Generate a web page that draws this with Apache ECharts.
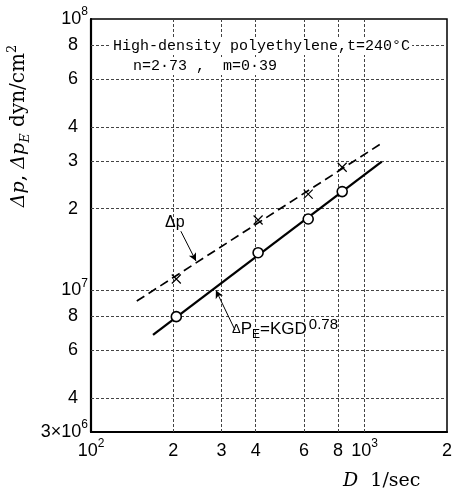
<!DOCTYPE html>
<html>
<head>
<meta charset="utf-8">
<title>Δp, Δp_E vs D</title>
<script src="https://cdn.jsdelivr.net/npm/echarts@6/dist/echarts.min.js"></script>
<style>
  html, body { margin: 0; padding: 0; background: #fff; }
  #chart { width: 452px; height: 493px; }
</style>
</head>
<body>
<div id="chart"></div>
<script>
// shear rate D (1/sec) of the measured points
const shearRate = [205, 408, 622, 828];
// Δp_E (open circles) and Δp (crosses), dyn/cm2
const deltaPE = [7.99e6, 1.375e7, 1.83e7, 2.31e7];
const deltaP = [1.10e7, 1.815e7, 2.26e7, 2.84e7];

// end points of the two drawn lines
const solidD = [168.5, 1155];
const solidPE = [6.84e6, 2.98e7];
const dashD = [147, 1138];
const dashP = [9.12e6, 3.45e7];

// leader arrows of the two notes: [D, p] start -> end
const arrowP = [[213, 1.65e7], [242, 1.28e7]];
const arrowPE = [[336, 7.13e6], [286, 1.0e7]];

const xTicks = [100, 200, 300, 400, 600, 800, 1000, 2000];
const xTickLabels = ['10^2', '2', '3', '4', '6', '8', '10^3', '2'];
const yTicks = [3e6, 4e6, 6e6, 8e6, 1e7, 2e7, 3e7, 4e7, 6e7, 8e7, 1e8];
const yTickLabels = ['3×10^6', '4', '6', '8', '10^7', '2', '3', '4', '6', '8', '10^8'];

const chart = echarts.init(document.getElementById('chart'));

function pairs(xs, ys) {
  return xs.map((x, i) => [x, ys[i]]);
}

// turns '10^7' into rich text, plain digits get their own style
function tickLabel(ticks, labels, plainStyle) {
  return function (v) {
    const i = ticks.findIndex(t => Math.abs(t - v) / t < 1e-6);
    if (i < 0) return '';
    const s = labels[i];
    if (s.indexOf('^') >= 0) {
      const p = s.split('^');
      return '{n|' + p[0] + '}{s|' + p[1] + '}';
    }
    return '{' + plainStyle + '|' + s + '}';
  };
}

const tickRich = {
  n: { fontFamily: 'Liberation Sans', fontSize: 18, lineHeight: 26, color: '#000' },
  d: { fontFamily: 'Liberation Sans', fontSize: 18, lineHeight: 26, color: '#000', padding: [0, 10, 0, 0] },
  x: { fontFamily: 'Liberation Sans', fontSize: 18, lineHeight: 26, color: '#000' },
  s: { fontFamily: 'Liberation Sans', fontSize: 12, lineHeight: 12, verticalAlign: 'top', color: '#000' }
};

// inner grid lines, drawn at the tick values
const gridStyle = { color: '#444', width: 1, type: [3, 2] };
const gridLines = xTicks.slice(1, -1).map(v => ({ xAxis: v }))
  .concat(yTicks.slice(1, -1).map(v => ({ yAxis: v })));

const arrowMark = (pts) => ({
  silent: true,
  z: 5,
  symbol: ['none', 'arrow'],
  symbolSize: [6, 8],
  label: { show: false },
  lineStyle: { color: '#000', width: 1, type: 'solid' },
  data: [[{ coord: pts[0] }, { coord: pts[1] }]]
});

const option = {
  animation: false,
  grid: {
    left: 91, top: 19, right: 5, bottom: 61,
    containLabel: false,
    outerBoundsMode: 'none',
    show: true, borderColor: '#000', borderWidth: 1.5
  },
  xAxis: {
    type: 'log',
    logBase: 10,
    min: 100,
    max: 2000,
    axisLine: { show: true, lineStyle: { color: '#000', width: 2.2 } },
    axisTick: { show: false, customValues: xTicks },
    splitLine: { show: false },
    axisLabel: {
      customValues: xTicks,
      margin: 6,
      formatter: tickLabel(xTicks, xTickLabels, 'x'),
      rich: tickRich
    }
  },
  yAxis: {
    type: 'log',
    logBase: 10,
    min: 3e6,
    max: 1e8,
    axisLine: { show: true, lineStyle: { color: '#000', width: 2.2 } },
    axisTick: { show: false, customValues: yTicks },
    splitLine: { show: false },
    axisLabel: {
      customValues: yTicks,
      margin: 3,
      formatter: tickLabel(yTicks, yTickLabels, 'd'),
      rich: tickRich
    }
  },
  series: [
    {
      name: 'grid',
      type: 'line',
      z: 1,
      data: [],
      markLine: {
        silent: true,
        z: 1,
        symbol: 'none',
        label: { show: false },
        lineStyle: gridStyle,
        data: gridLines
      }
    },
    {
      name: 'Δp line',
      type: 'line',
      z: 3,
      data: pairs(dashD, dashP),
      symbol: 'none',
      lineStyle: { color: '#000', width: 1.7, type: [9, 5] },
      markLine: arrowMark(arrowP)
    },
    {
      name: 'Δp_E line',
      type: 'line',
      z: 3,
      data: pairs(solidD, solidPE),
      symbol: 'none',
      lineStyle: { color: '#000', width: 2.3 },
      markLine: arrowMark(arrowPE)
    },
    {
      name: 'Δp',
      type: 'scatter',
      z: 4,
      data: pairs(shearRate, deltaP),
      symbol: 'path://M0,0L10,10M10,0L0,10',
      symbolSize: 9,
      itemStyle: { color: 'none', borderColor: '#000', borderWidth: 1.2, opacity: 1 }
    },
    {
      name: 'Δp_E',
      type: 'scatter',
      z: 4,
      data: pairs(shearRate, deltaPE),
      symbol: 'circle',
      symbolSize: 10,
      itemStyle: { color: '#fff', borderColor: '#000', borderWidth: 1.6, opacity: 1 }
    }
  ],
  graphic: [
    {
      type: 'text', left: 111, top: 38, z: 100,
      style: {
        text: 'High-density polyethylene,t=240°C',
        font: '15px "Liberation Mono"', fill: '#000',
        backgroundColor: '#fff', padding: [1, 2]
      }
    },
    {
      type: 'text', left: 131, top: 58, z: 100,
      style: {
        text: 'n=2·73 ,  m=0·39',
        font: '15px "Liberation Mono"', fill: '#000',
        backgroundColor: '#fff', padding: [1, 2]
      }
    },
    {
      type: 'text', left: 165, top: 215, z: 100,
      style: { text: 'Δp', font: '16px "Liberation Sans"', fill: '#000' }
    },
    {
      type: 'text', left: 232, top: 317, z: 100,
      style: {
        text: '{t|Δ}{c|P}{e|E}{c|=KGD}{s|0.78}',
        rich: {
          t: { fontFamily: 'Liberation Sans', fontSize: 13, lineHeight: 24, fill: '#000' },
          c: { fontFamily: 'Liberation Sans', fontSize: 17, lineHeight: 24, fill: '#000' },
          e: { fontFamily: 'Liberation Sans', fontSize: 12, verticalAlign: 'bottom', fill: '#000' },
          s: { fontFamily: 'Liberation Sans', fontSize: 15, verticalAlign: 'top', fill: '#000', padding: [0, 0, 0, 2] }
        }
      }
    },
    {
      type: 'text', x: 19, y: 126, rotation: Math.PI / 2, z: 100,
      style: {
        text: '{b|Δp}{r|, }{b|Δp}{e|E}{r| dyn/cm}{s|2}',
        align: 'center', verticalAlign: 'middle',
        rich: {
          b: { fontFamily: 'DejaVu Serif', fontSize: 19, fontStyle: 'italic', lineHeight: 26, fill: '#000' },
          r: { fontFamily: 'DejaVu Serif', fontSize: 20, lineHeight: 26, fill: '#000' },
          e: { fontFamily: 'DejaVu Serif', fontSize: 13, fontStyle: 'italic', verticalAlign: 'bottom', fill: '#000' },
          s: { fontFamily: 'DejaVu Serif', fontSize: 13, verticalAlign: 'top', fill: '#000' }
        }
      }
    },
    {
      type: 'text', left: 343, top: 472, z: 100,
      style: {
        text: '{i|D}{r|  1/sec}',
        rich: {
          i: { fontFamily: 'DejaVu Serif', fontSize: 19, fontStyle: 'italic', fill: '#000' },
          r: { fontFamily: 'DejaVu Serif', fontSize: 19, fill: '#000' }
        }
      }
    }
  ]
};

chart.setOption(option);
</script>
</body>
</html>
